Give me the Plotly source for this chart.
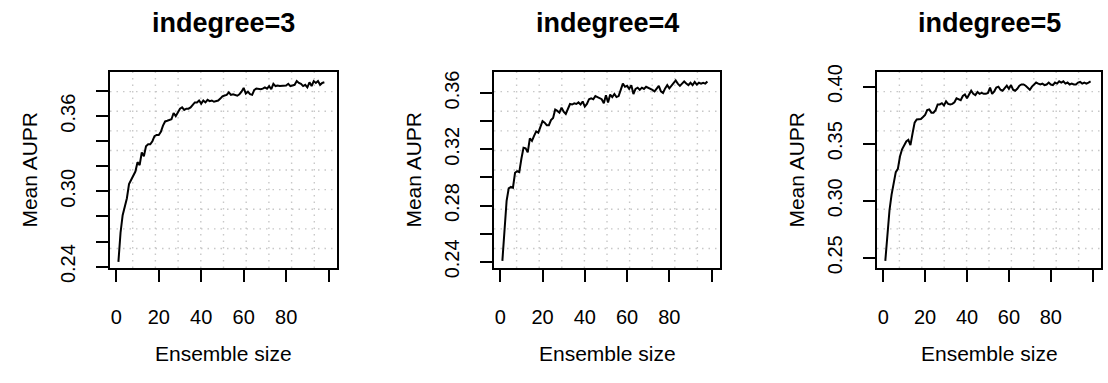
import plotly.graph_objects as go

# ---------------- data ----------------
titles = ["indegree=3", "indegree=4", "indegree=5"]
x_label = "Ensemble size"
y_label = "Mean AUPR"

aupr_indeg3 = [
    0.2438, 0.267, 0.281, 0.287, 0.2945, 0.3058, 0.3095, 0.312, 0.3158, 0.3233,
    0.321, 0.331, 0.328, 0.336, 0.3375, 0.3375, 0.340, 0.344, 0.345, 0.345,
    0.3475, 0.3525, 0.3558, 0.3563, 0.357, 0.3575, 0.3625, 0.360, 0.363, 0.366,
    0.367, 0.365, 0.366, 0.366, 0.367, 0.3695, 0.371, 0.371, 0.3725, 0.370,
    0.3725, 0.371, 0.373, 0.372, 0.3725, 0.3715, 0.372, 0.3725, 0.374, 0.3758,
    0.3765, 0.377, 0.379, 0.377, 0.3775, 0.377, 0.3763, 0.3775, 0.3795, 0.3825,
    0.378, 0.3795, 0.3775, 0.377, 0.381, 0.382, 0.3815, 0.3815, 0.382, 0.383,
    0.382, 0.384, 0.3815, 0.3858, 0.384, 0.3845, 0.384, 0.384, 0.3845, 0.3845,
    0.3858, 0.384, 0.3845, 0.385, 0.388, 0.3865, 0.3858, 0.384, 0.385, 0.383,
    0.387, 0.384, 0.388, 0.3865, 0.388, 0.385, 0.3865, 0.387,
]

aupr_indeg4 = [
    0.2407, 0.2633, 0.2833, 0.2922, 0.2933, 0.2927, 0.3033, 0.3044, 0.3038, 0.3133,
    0.3211, 0.3207, 0.3178, 0.3278, 0.3260, 0.3296, 0.3327, 0.3318, 0.3356, 0.3400,
    0.3389, 0.3371, 0.3371, 0.3407, 0.3422, 0.3482, 0.3473, 0.3460, 0.3496, 0.3467,
    0.3451, 0.3482, 0.3522, 0.3518, 0.3527, 0.3522, 0.3533, 0.3518, 0.3540, 0.3504,
    0.3522, 0.3556, 0.3562, 0.3556, 0.3578, 0.3571, 0.3562, 0.3556, 0.3527, 0.3584,
    0.3533, 0.3589, 0.3571, 0.3593, 0.3571, 0.3578, 0.3622, 0.3667, 0.3644, 0.3651,
    0.3629, 0.3656, 0.3593, 0.3629, 0.3638, 0.3622, 0.3638, 0.3629, 0.3644, 0.3638,
    0.3633, 0.3622, 0.3611, 0.3629, 0.3651, 0.3611, 0.3600, 0.3633, 0.3656, 0.3633,
    0.3651, 0.3667, 0.3689, 0.3667, 0.3651, 0.3667, 0.3682, 0.3667, 0.3656, 0.3673,
    0.3656, 0.3678, 0.3660, 0.3673, 0.3667, 0.3673, 0.3667, 0.3682,
]

aupr_indeg5 = [
    0.2473, 0.2725, 0.2917, 0.3054, 0.3150, 0.3251, 0.3279, 0.3388, 0.3451, 0.3487,
    0.3520, 0.3534, 0.3487, 0.3589, 0.3685, 0.3712, 0.3712, 0.3717, 0.3734, 0.3753,
    0.3794, 0.3800, 0.3772, 0.3772, 0.3794, 0.3844, 0.3844, 0.3855, 0.3835, 0.3871,
    0.3849, 0.3844, 0.3849, 0.3863, 0.3898, 0.3890, 0.3882, 0.3918, 0.3931, 0.3898,
    0.3931, 0.3964, 0.3937, 0.3926, 0.3953, 0.3937, 0.3945, 0.3937, 0.3937, 0.3945,
    0.3992, 0.3937, 0.3959, 0.3992, 0.4000, 0.3973, 0.3964, 0.3986, 0.4008, 0.3981,
    0.4014, 0.3973, 0.3964, 0.3981, 0.4008, 0.4019, 0.4019, 0.4008, 0.3992, 0.3973,
    0.4000, 0.4014, 0.4036, 0.4027, 0.4019, 0.4027, 0.4014, 0.4019, 0.4036, 0.4019,
    0.4014, 0.4036, 0.4027, 0.4047, 0.4036, 0.4047, 0.4027, 0.4036, 0.4019, 0.4027,
    0.4019, 0.4019, 0.4036, 0.4041, 0.4027, 0.4036, 0.4027, 0.4036, 0.4047,
]

series = [aupr_indeg3, aupr_indeg4, aupr_indeg5]

x_tickvals = [0, 20, 40, 60, 80, 100]
x_ticktext = ["0", "20", "40", "60", "80", ""]

y_tickvals = [
    [0.24, 0.26, 0.28, 0.30, 0.32, 0.34, 0.36, 0.38],
    [0.24, 0.26, 0.28, 0.30, 0.32, 0.34, 0.36],
    [0.25, 0.30, 0.35, 0.40],
]
y_ticktext = [
    ["0.24", "", "", "0.30", "", "", "0.36", ""],
    ["0.24", "", "0.28", "", "0.32", "", "0.36"],
    ["0.25", "0.30", "0.35", "0.40"],
]
y_ranges = [[0.2388, 0.3952], [0.2356, 0.3749], [0.2410, 0.4128]]
x_range = [-2.96, 103.96]

# ---------------- layout geometry (pixels) ----------------
W, H = 1108, 383
box_left = [110, 494, 877]
box_right = [337, 720, 1101]
box_top, box_bottom = 69, 277

FONT = "Liberation Sans, Arial, Helvetica, sans-serif"

fig = go.Figure()
layout = dict(
    width=W, height=H,
    margin=dict(l=0, r=0, t=0, b=0),
    paper_bgcolor="white", plot_bgcolor="white",
    showlegend=False,
    font=dict(family=FONT, color="black"),
)

annotations = []
shapes = []
for i, ys in enumerate(series):
    n = i + 1
    xs = list(range(1, len(ys) + 1))
    xa = "x" if n == 1 else f"x{n}"
    ya = "y" if n == 1 else f"y{n}"
    fig.add_trace(go.Scatter(
        x=xs, y=ys, mode="lines", xaxis=xa, yaxis=ya,
        line=dict(color="black", width=2), hoverinfo="skip",
    ))
    xd = [box_left[i] / W, box_right[i] / W]
    yd = [1 - box_bottom / H, 1 - box_top / H]
    layout["xaxis" if n == 1 else f"xaxis{n}"] = dict(
        domain=xd, range=x_range, anchor=ya,
        tickvals=x_tickvals, ticktext=x_ticktext,
        ticks="outside", ticklen=12, tickwidth=2, tickcolor="black",
        showline=True, linecolor="black", linewidth=2, mirror=True,
        showgrid=False, zeroline=False,
        tickfont=dict(size=20, family=FONT, color="black"),
        ticklabelstandoff=18,
    )
    layout["yaxis" if n == 1 else f"yaxis{n}"] = dict(
        domain=yd, range=y_ranges[i], anchor=xa,
        tickvals=y_tickvals[i], ticktext=y_ticktext[i],
        ticks="outside", ticklen=12, tickwidth=2, tickcolor="black",
        showline=True, linecolor="black", linewidth=2, mirror=True,
        showgrid=False, zeroline=False, tickangle=-90,
        tickfont=dict(size=20, family=FONT, color="black"),
        ticklabelstandoff=13,
    )
    # R grid(): 10 equal divisions, dotted light gray
    for k in range(1, 10):
        shapes.append(dict(type="line", xref=f"{xa} domain", yref=f"{ya} domain",
                           x0=k / 10, x1=k / 10, y0=0, y1=1, layer="below",
                           line=dict(color="#c8c8c8", width=1.4, dash="1.5px,5px")))
        shapes.append(dict(type="line", xref=f"{xa} domain", yref=f"{ya} domain",
                           x0=0, x1=1, y0=k / 10, y1=k / 10, layer="below",
                           line=dict(color="#c8c8c8", width=1.4, dash="1.5px,5px")))
    cx = (box_left[i] + box_right[i]) / 2 / W
    annotations.append(dict(text=f"<b>{titles[i]}</b>", x=cx, y=1 - 17 / H,
                            xref="paper", yref="paper", xanchor="center", yanchor="middle",
                            showarrow=False, font=dict(size=27, family=FONT, color="black")))
    annotations.append(dict(text=x_label, x=cx, y=1 - 367.5 / H,
                            xref="paper", yref="paper", xanchor="center", yanchor="middle",
                            showarrow=False, font=dict(size=21, family=FONT, color="black")))
    annotations.append(dict(text=y_label, x=(box_left[i] - 80.5) / W,
                            y=1 - (box_top + box_bottom) / 2 / H,
                            xref="paper", yref="paper", xanchor="center", yanchor="middle",
                            textangle=-90, showarrow=False,
                            font=dict(size=21, family=FONT, color="black")))

layout["annotations"] = annotations
layout["shapes"] = shapes
fig.update_layout(**layout)
fig.write_html("out.html")
